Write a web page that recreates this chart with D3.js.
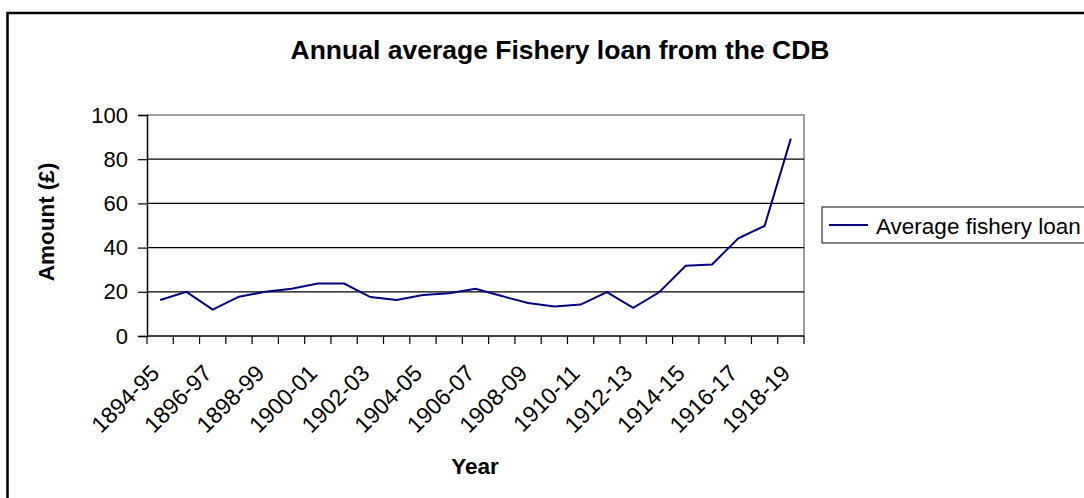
<!DOCTYPE html>
<html>
<head>
<meta charset="utf-8">
<script src="https://cdn.jsdelivr.net/npm/d3@7"></script>
<style>
  html, body { margin: 0; padding: 0; background: #fff; }
  svg { display: block; font-family: "Liberation Sans", Arial, sans-serif; }
</style>
</head>
<body>
<svg id="chart" width="1084" height="498"></svg>
<script>
const categories = ["1894-95","1895-96","1896-97","1897-98","1898-99","1899-00","1900-01","1901-02","1902-03","1903-04","1904-05","1905-06","1906-07","1907-08","1908-09","1909-10","1910-11","1911-12","1912-13","1913-14","1914-15","1915-16","1916-17","1917-18","1918-19"];
const loanValues = [16.3,20.0,11.9,17.8,20.0,21.4,23.7,23.7,17.6,16.3,18.5,19.3,21.4,18.1,14.9,13.3,14.2,19.9,12.7,19.9,31.8,32.4,44.2,49.8,89.3];
const yTicks = [0,20,40,60,80,100];
const seriesName = "Average fishery loan";
const titleText = "Annual average Fishery loan from the CDB";
const xTitle = "Year";
const yTitle = "Amount (£)";

const svg = d3.select("#chart");
const plot = {left: 147, right: 804, top: 115, bottom: 336};

const x = d3.scaleBand().domain(categories).range([plot.left, plot.right]).paddingInner(0).paddingOuter(0);
const y = d3.scaleLinear().domain([0, 100]).range([plot.bottom, plot.top]);
const bw = x.bandwidth();

// chart area border (left + top visible)
svg.append("path")
  .attr("d", `M7.5,498 L7.5,13 L1084,13`)
  .attr("fill", "none").attr("stroke", "#000").attr("stroke-width", 2.5);

// title
svg.append("text").attr("x", 560).attr("y", 50)
  .attr("text-anchor", "middle").attr("dominant-baseline", "central")
  .attr("font-weight", "bold").attr("font-size", 26.5).text(titleText);

// plot area border (gray top/right)
svg.append("path")
  .attr("d", `M${plot.left},${plot.top} L${plot.right},${plot.top} L${plot.right},${plot.bottom}`)
  .attr("fill", "none").attr("stroke", "#808080").attr("stroke-width", 1.5);

// gridlines
svg.append("g").selectAll("line").data(yTicks.filter(t => t > 0 && t < 100)).join("line")
  .attr("x1", plot.left).attr("x2", plot.right)
  .attr("y1", d => y(d)).attr("y2", d => y(d))
  .attr("stroke", "#000").attr("stroke-width", 1.2);

// y axis
const yAxis = d3.axisLeft(y).tickValues(yTicks).tickSize(9).tickPadding(10);
const gy = svg.append("g").attr("transform", `translate(${plot.left},0)`).call(yAxis);
gy.select(".domain").attr("stroke", "#000").attr("stroke-width", 1.5);
gy.selectAll(".tick line").attr("stroke", "#000").attr("stroke-width", 1.2);
gy.selectAll(".tick text").attr("font-size", 22).attr("font-family", "Liberation Sans, Arial, sans-serif").attr("fill", "#000");

// x axis line
svg.append("line").attr("x1", plot.left).attr("x2", plot.right)
  .attr("y1", plot.bottom).attr("y2", plot.bottom)
  .attr("stroke", "#000").attr("stroke-width", 1.5);
// x ticks at band boundaries
const boundaries = categories.map(c => x(c)).concat([x(categories[categories.length-1]) + bw]);
svg.append("g").selectAll("line").data(boundaries).join("line")
  .attr("x1", d => d).attr("x2", d => d)
  .attr("y1", plot.bottom).attr("y2", plot.bottom + 8)
  .attr("stroke", "#000").attr("stroke-width", 1.2);
// x labels (every other)
svg.append("g").selectAll("text").data(categories.filter((c, i) => i % 2 === 0)).join("text")
  .attr("transform", d => `translate(${x(d) + bw/2 - 5},${plot.bottom + 33}) rotate(-45)`)
  .attr("text-anchor", "end").attr("dominant-baseline", "central")
  .attr("font-size", 23).text(d => d);

// axis titles
svg.append("text").attr("x", 475).attr("y", 466)
  .attr("text-anchor", "middle").attr("dominant-baseline", "central")
  .attr("font-weight", "bold").attr("font-size", 22.5).text(xTitle);
svg.append("text").attr("transform", `translate(46,222) rotate(-90)`)
  .attr("text-anchor", "middle").attr("dominant-baseline", "central")
  .attr("font-weight", "bold").attr("font-size", 22.5).text(yTitle);

// line
const line = d3.line().x((d, i) => x(categories[i]) + bw/2).y(d => y(d));
svg.append("path").datum(loanValues).attr("d", line)
  .attr("fill", "none").attr("stroke", "#000080").attr("stroke-width", 2)
  .attr("stroke-linejoin", "miter");

// legend
const lg = svg.append("g");
lg.append("rect").attr("x", 822).attr("y", 207).attr("width", 300).attr("height", 36)
  .attr("fill", "#fff").attr("stroke", "#333").attr("stroke-width", 1.2);
lg.append("line").attr("x1", 829).attr("x2", 868).attr("y1", 225).attr("y2", 225)
  .attr("stroke", "#000080").attr("stroke-width", 2);
lg.append("text").attr("x", 876).attr("y", 234).attr("font-size", 22.5).text(seriesName);
</script>
</body>
</html>
